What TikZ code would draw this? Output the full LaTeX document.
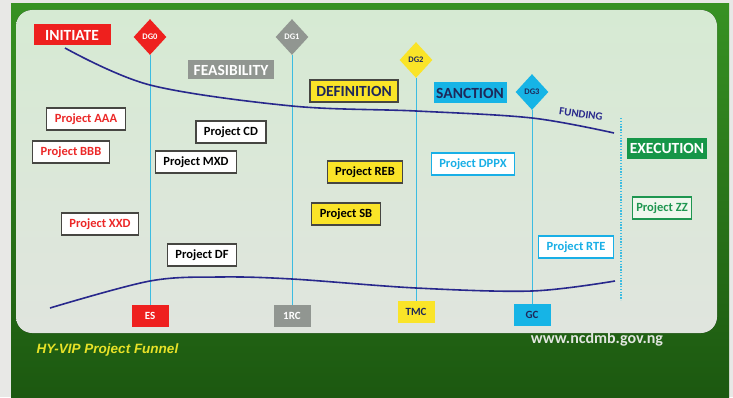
\documentclass[tikz,border=0pt]{standalone}
\usepackage{fontspec}
\setmainfont{Carlito}
\newfontfamily\titlefont{Liberation Sans}
\usepackage{xcolor}
\usepackage{tikz}
\usetikzlibrary{shapes.geometric}

\definecolor{outside}{RGB}{232,232,230}
\definecolor{frametop}{RGB}{55,145,35}
\definecolor{framebot}{RGB}{28,88,16}
\definecolor{paneltop}{RGB}{214,234,211}
\definecolor{panelbot}{RGB}{224,229,222}
\definecolor{initred}{RGB}{238,32,30}
\definecolor{feasgray}{RGB}{145,150,145}
\definecolor{defyellow}{RGB}{250,228,40}
\definecolor{sancblue}{RGB}{22,180,230}
\definecolor{execgreen}{RGB}{22,150,72}
\definecolor{gatecyan}{RGB}{60,188,225}
\definecolor{funnelblue}{RGB}{40,40,140}
\definecolor{boxgray}{RGB}{70,70,66}
\definecolor{navytext}{RGB}{30,40,90}
\definecolor{redtext}{RGB}{236,40,40}
\definecolor{cyantext}{RGB}{25,175,230}
\definecolor{greentext}{RGB}{30,150,80}
\definecolor{titleyellow}{RGB}{232,226,40}
\definecolor{webgray}{RGB}{226,230,224}

\begin{document}
\begin{tikzpicture}[x=1pt, y=1pt, node distance=100pt, thick]
      \tikzstyle{stage} = [rectangle, inner xsep=2pt, inner ysep=0pt, minimum height=21pt, text=white,
         font=\bfseries\fontsize{15.5}{15.5}\selectfont]
      \tikzstyle{project} = [rectangle, draw=boxgray, line width=1.2pt, fill=white, inner xsep=8pt,
         inner ysep=0pt, minimum height=22pt, font=\bfseries\fontsize{12.5}{12.5}\selectfont]
      \tikzstyle{gate} = [diamond, minimum width=33pt, minimum height=36pt, inner sep=0pt,
         font=\bfseries\fontsize{8.5}{8.5}\selectfont]
      \tikzstyle{body} = [rectangle, minimum width=37pt, minimum height=22pt, inner sep=0pt,
         font=\bfseries\fontsize{11}{11}\selectfont]
      \tikzstyle{gateline} = [draw=gatecyan, line width=0.9pt]
      \tikzstyle{funnel} = [draw=funnelblue, line width=1.6pt]
      %frame and panel
      \fill[outside] (0,0) rectangle (733,397);
      \fill[top color=frametop, bottom color=framebot] (11,0) rectangle (729,393);
      \fill[top color=paneltop, bottom color=panelbot, rounded corners=16pt] (16,64) rectangle (717,387);
      %gates
      \node[gate, fill=initred, text=white]      (dg0) at (150,360) {DG0};
      \node[gate, fill=feasgray, text=white]     (dg1) at (292,360) {DG1};
      \node[gate, fill=defyellow, text=navytext] (dg2) at (416,337) {DG2};
      \node[gate, fill=sancblue, text=navytext]  (dg3) at (532,305) {DG3};
      %bodies under the gates
      \node[body, fill=initred, text=white]      (es)  [below of=dg0, node distance=279pt] {ES};
      \node[body, fill=feasgray, text=white]     (irc) [below of=dg1, node distance=279pt] {1RC};
      \node[body, fill=defyellow, text=navytext] (tmc) [below of=dg2, node distance=252pt] {TMC};
      \node[body, fill=sancblue, text=navytext]  (gc)  [below of=dg3, node distance=223pt] {GC};
      %lines
      \path[gateline] (dg0) -- (es);
      \path[gateline] (dg1) -- (irc);
      \path[gateline] (dg2) -- (tmc);
      \path[gateline] (dg3) -- (gc);
      \coordinate (exectop) at (621,279);
      \coordinate (execbot) at (621,97);
      \draw[gatecyan, line width=1.3pt, dash pattern=on 1.4pt off 1.4pt] (exectop) -- (execbot);
      %funnel
      \draw[funnel] plot[smooth, tension=0.55] coordinates {(65,349) (150,312) (292,291) (416,286) (532,279) (614,264)};
      \draw[funnel] plot[smooth, tension=0.55] coordinates {(50,89) (150,116) (220,120) (292,118) (416,109) (532,106) (615,116)};
      \node[text=funnelblue, rotate=-8, font=\bfseries\fontsize{11}{11}\selectfont] (funding) at (581,283) {FUNDING};
      %stages
      \node[stage, fill=initred, minimum width=77pt]   (initiate)    at (72,362)  {INITIATE};
      \node[stage, fill=feasgray, minimum width=86pt, minimum height=19pt] (feasibility) at (231,327) {FEASIBILITY};
      \node[stage, fill=defyellow, minimum width=88pt, minimum height=22pt, draw=boxgray, line width=1.2pt, text=navytext] (definition) at (354,306) {DEFINITION};
      \node[stage, fill=sancblue, minimum width=73pt, text=navytext] (sanction) at (470,304) {SANCTION};
      \node[stage, fill=execgreen, minimum width=80pt] (execution)   at (667,249) {EXECUTION};
      %projects
      \node[project, text=redtext] (aaa) at (86,278) {Project AAA};
      \node[project, text=redtext] (bbb) [below of=aaa, xshift=-15pt, node distance=33pt] {Project BBB};
      \node[project, text=redtext] (xxd) at (100,173) {Project XXD};
      \node[project, text=black]   (cd)  at (231,265) {Project CD};
      \node[project, text=black]   (mxd) [below of=cd, xshift=-35pt, node distance=30pt] {Project MXD};
      \node[project, text=black]   (df)  at (202,142) {Project DF};
      \node[project, fill=defyellow, text=black] (reb) at (365,225) {Project REB};
      \node[project, fill=defyellow, text=black] (sb)  [below of=reb, xshift=-19pt, node distance=42pt] {Project SB};
      \node[project, draw=cyantext, text=cyantext] (dppx) at (473,233) {Project DPPX};
      \node[project, draw=cyantext, text=cyantext] (rte)  at (576,150) {Project RTE};
      \node[project, draw=greentext, text=greentext, fill=white!60!paneltop, inner xsep=4pt] (zz) at (662,189) {Project ZZ};
      %footer
      \node[anchor=west, text=titleyellow, font=\titlefont\bfseries\itshape\fontsize{13.5}{13.5}\selectfont] (title) at (33,47) {HY-VIP Project Funnel};
      \node[text=webgray, font=\bfseries\fontsize{16}{16}\selectfont] (web) at (597,58) {www.ncdmb.gov.ng};
\end{tikzpicture}
\end{document}
